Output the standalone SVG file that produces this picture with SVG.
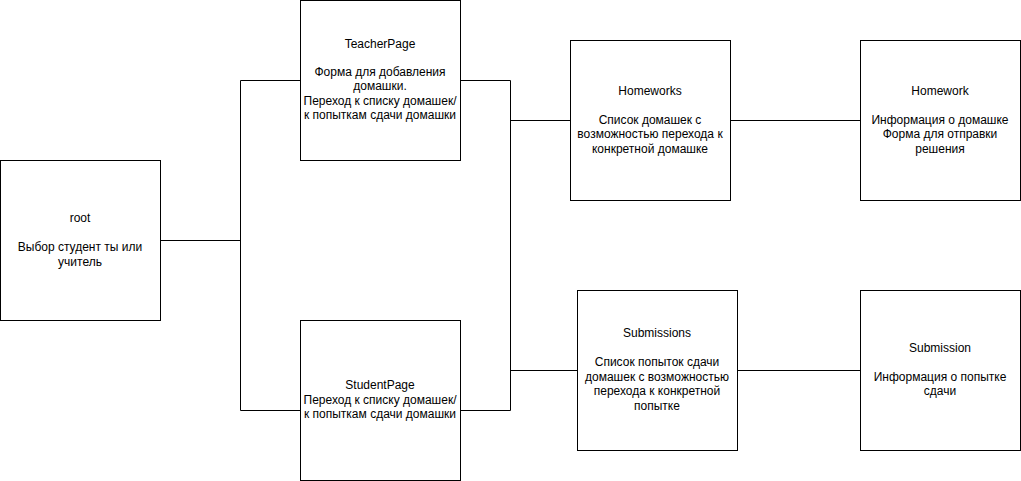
<svg xmlns="http://www.w3.org/2000/svg" width="1021" height="481" viewBox="0 0 1021 481">
<style>
.box{fill:#fff;stroke:#000;stroke-width:1}
.ln{fill:none;stroke:#000;stroke-width:1}
text{font-family:"Liberation Sans",Arial,sans-serif;font-size:12px;fill:#000;text-anchor:middle}
</style>
<rect width="1021" height="481" fill="#fff"/>
<g id="connectors">
<polyline class="ln" points="160.5,240.5 240.5,240.5"/>
<polyline class="ln" points="240.5,80.5 240.5,410.5"/>
<polyline class="ln" points="240.5,80.5 300.5,80.5"/>
<polyline class="ln" points="240.5,410.5 300.5,410.5"/>
<polyline class="ln" points="460.5,80.5 510.5,80.5 510.5,410.5 460.5,410.5"/>
<polyline class="ln" points="510.5,120.5 570.5,120.5"/>
<polyline class="ln" points="510.5,370.5 577.5,370.5"/>
<polyline class="ln" points="730.5,120.5 860.5,120.5"/>
<polyline class="ln" points="737.5,370.5 860.5,370.5"/>
</g>
<g id="root">
<rect class="box" x="0.5" y="160.5" width="160" height="160"/>
<text x="80" y="222">root</text>
<text x="80" y="251">Выбор студент ты или</text>
<text x="80" y="266">учитель</text>
</g>
<g id="teacher">
<rect class="box" x="300.5" y="0.5" width="160" height="160"/>
<text x="380" y="48">TeacherPage</text>
<text x="380" y="76">Форма для добавления</text>
<text x="380" y="90">домашки.</text>
<text x="380" y="105">Переход к списку домашек/</text>
<text x="380" y="119">к попыткам сдачи домашки</text>
</g>
<g id="student">
<rect class="box" x="300.5" y="320.5" width="160" height="160"/>
<text x="380" y="389">StudentPage</text>
<text x="380" y="404">Переход к списку домашек/</text>
<text x="380" y="418">к попыткам сдачи домашки</text>
</g>
<g id="homeworks">
<rect class="box" x="570.5" y="40.5" width="160" height="160"/>
<text x="650" y="95">Homeworks</text>
<text x="650" y="124">Список домашек с</text>
<text x="650" y="138">возможностью перехода к</text>
<text x="650" y="153">конкретной домашке</text>
</g>
<g id="homework">
<rect class="box" x="860.5" y="40.5" width="160" height="160"/>
<text x="940" y="95">Homework</text>
<text x="940" y="124">Информация о домашке</text>
<text x="940" y="138">Форма для отправки</text>
<text x="940" y="153">решения</text>
</g>
<g id="submissions">
<rect class="box" x="577.5" y="290.5" width="160" height="160"/>
<text x="657" y="337">Submissions</text>
<text x="657" y="366">Список попыток сдачи</text>
<text x="657" y="381">домашек с возможностью</text>
<text x="657" y="395">перехода к конкретной</text>
<text x="657" y="410">попытке</text>
</g>
<g id="submission">
<rect class="box" x="860.5" y="290.5" width="160" height="160"/>
<text x="940" y="352">Submission</text>
<text x="940" y="381">Информация о попытке</text>
<text x="940" y="395">сдачи</text>
</g>
</svg>
